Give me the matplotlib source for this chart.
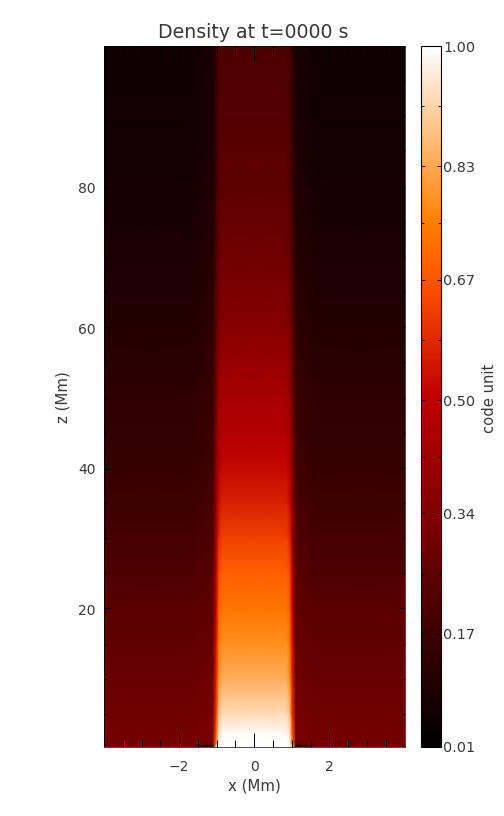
"""Density map of a flux tube at t=0, IDL style layout with a red temperature table."""

import numpy as np
import matplotlib
matplotlib.use("Agg")
import matplotlib.pyplot as plt
from matplotlib.transforms import ScaledTranslation

W, H = 504, 816
TEXT = "#383838"

# half of the tube profile, mirrored about x=0 when drawn
x_half = [-4.0, -1.7, -1.11, -1.01, -0.94, -0.85, 0.0]
z_rows = [0.3, 0.8, 2, 5, 10, 15, 20, 25, 30, 35, 40, 45, 50, 60, 70, 80, 90, 100]
density_half = [
    [0.30, 0.28, 0.06, 0.95, 1.00, 1.00, 1.00],
    [0.31, 0.31, 0.31, 0.75, 0.98, 1.00, 1.00],
    [0.31, 0.31, 0.33, 0.70, 0.96, 0.99, 1.00],
    [0.30, 0.30, 0.32, 0.62, 0.88, 0.93, 0.93],
    [0.28, 0.28, 0.30, 0.58, 0.79, 0.84, 0.84],
    [0.26, 0.26, 0.28, 0.55, 0.74, 0.78, 0.78],
    [0.24, 0.24, 0.26, 0.52, 0.69, 0.73, 0.73],
    [0.21, 0.21, 0.24, 0.49, 0.65, 0.69, 0.69],
    [0.19, 0.19, 0.22, 0.45, 0.59, 0.63, 0.63],
    [0.17, 0.17, 0.20, 0.40, 0.53, 0.57, 0.57],
    [0.15, 0.15, 0.18, 0.37, 0.48, 0.52, 0.52],
    [0.14, 0.14, 0.17, 0.34, 0.44, 0.47, 0.47],
    [0.13, 0.13, 0.16, 0.31, 0.41, 0.44, 0.44],
    [0.10, 0.10, 0.13, 0.25, 0.33, 0.36, 0.36],
    [0.085, 0.085, 0.11, 0.21, 0.28, 0.30, 0.30],
    [0.07, 0.07, 0.095, 0.18, 0.23, 0.25, 0.25],
    [0.06, 0.06, 0.085, 0.16, 0.21, 0.23, 0.23],
    [0.055, 0.055, 0.08, 0.15, 0.20, 0.21, 0.21],
]

x_major = [-2, 0, 2]
x_minor = [-3.5, -3, -2.5, -1.5, -1, -0.5, 0.5, 1, 1.5, 2.5, 3, 3.5]
z_major = [20, 40, 60, 80]
z_minor = [5, 10, 15, 25, 30, 35, 45, 50, 55, 65, 70, 75, 85, 90, 95]
cbar_major = [0.01, 0.17, 0.34, 0.50, 0.67, 0.83, 1.00]
cbar_labels = ["0.01", "0.17", "0.34", "0.50", "0.67", "0.83", "1.00"]
cbar_minor = [0.09, 0.255, 0.42, 0.585, 0.75, 0.915]


def px_axes(fig, left, top, right, bottom):
    """Add axes from pixel edges measured from the top left corner."""
    return fig.add_axes([left / W, 1 - bottom / H, (right - left) / W, (bottom - top) / H])


plt.rcParams["font.family"] = "DejaVu Sans"

fig = plt.figure(figsize=(W / 100, H / 100), dpi=100)
ax = px_axes(fig, 104, 46, 404.5, 747)

half = np.array(density_half)
x_full = np.array(x_half + [-v for v in x_half[-2::-1]])
rho = np.hstack([half, half[:, -2::-1]])
mesh = ax.pcolormesh(x_full, z_rows, rho, cmap="gist_heat", vmin=0.01, vmax=1.0,
                     shading="gouraud")

ax.set_xlim(-4, 4)
ax.set_ylim(0.3, 100)
ax.set_xticks(x_major)
ax.set_xticks(x_minor, minor=True)
ax.set_yticks(z_major)
ax.set_yticks(z_minor, minor=True)
ax.tick_params(axis="x", which="major", direction="in", top=True, length=10, width=0.7,
               labelsize=10, labelcolor=TEXT, pad=9.5)
ax.tick_params(axis="x", which="minor", direction="in", top=True, length=5, width=0.7)
ax.tick_params(axis="y", which="major", direction="in", right=True, length=4.5, width=0.7,
               labelsize=10, labelcolor=TEXT, pad=6)
ax.tick_params(axis="y", which="minor", direction="in", right=True, length=2.2, width=0.7)
# z labels sit one pixel below their ticks in the original
shift_down = ScaledTranslation(0, -1 / 100, fig.dpi_scale_trans)
for label in ax.get_yticklabels():
    label.set_transform(label.get_transform() + shift_down)
for spine in ax.spines.values():
    spine.set_linewidth(0.5)

fig.text(253 / W, 1 - 32 / H, "Density at t=0000 s", ha="center", va="center",
         fontsize=13.6, color=TEXT)
fig.text(254 / W, 1 - 786 / H, "x (Mm)", ha="center", va="center", fontsize=10.8, color=TEXT)
fig.text(63 / W, 1 - 397 / H, "z (Mm)", ha="center", va="center", rotation=90,
         fontsize=10.8, color=TEXT)

cax = px_axes(fig, 420.5, 46, 440.5, 747)
cbar = fig.colorbar(mesh, cax=cax, ticks=cbar_major)
cbar.set_ticklabels(cbar_labels)
cax.yaxis.set_ticks(cbar_minor, minor=True)
cax.tick_params(axis="y", which="major", direction="in", left=True, right=True, length=3,
                width=0.7, labelsize=10.4, labelcolor=TEXT, pad=2)
cax.tick_params(axis="y", which="minor", direction="in", left=True, right=True, length=2,
                width=0.7)
cbar.outline.set_linewidth(0.8)
fig.text(490 / W, 1 - 398 / H, "code unit", ha="center", va="center", rotation=90,
         fontsize=10.6, color=TEXT)

fig.savefig("out.png", dpi=100)
